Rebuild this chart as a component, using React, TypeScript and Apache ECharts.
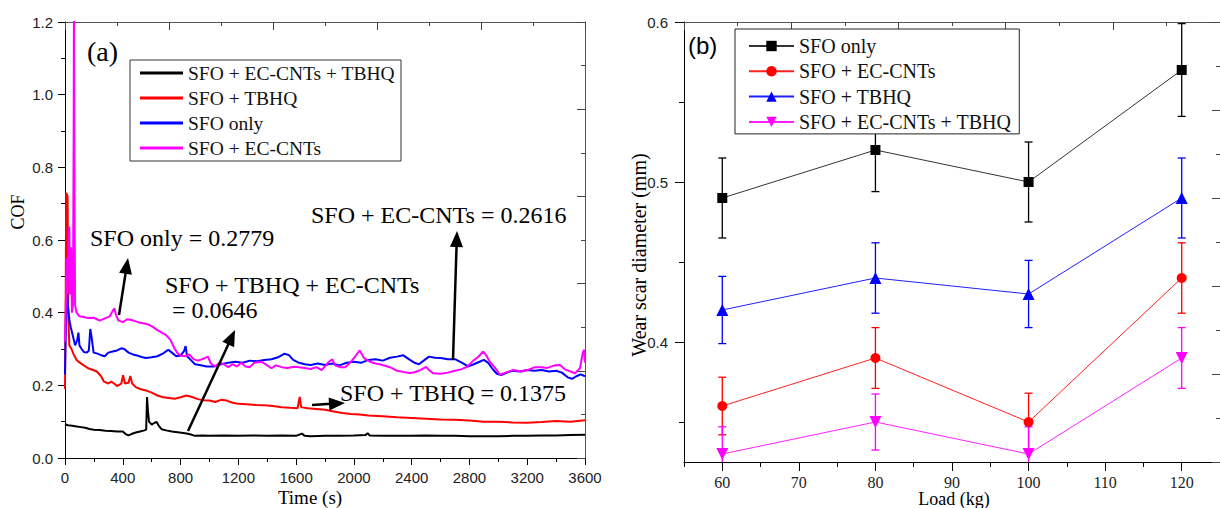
import React, { useEffect, useRef } from "react";
import * as echarts from "echarts";

// ---------- Panel (a): COF vs time ----------
const cofEcCntsTbhq: [number, number][] = [
  [0, 0.093], [20, 0.09], [50, 0.089], [80, 0.087], [110, 0.085], [140, 0.083], [170, 0.08], [200, 0.078],
  [240, 0.077], [280, 0.075], [320, 0.074], [360, 0.073], [400, 0.073], [420, 0.066], [440, 0.062], [460, 0.066],
  [490, 0.07], [520, 0.073], [550, 0.076], [562, 0.078], [568, 0.168], [574, 0.13], [582, 0.1], [600, 0.092],
  [620, 0.097], [635, 0.099], [650, 0.088], [670, 0.079], [700, 0.076], [740, 0.073], [780, 0.071], [820, 0.069],
  [860, 0.066], [900, 0.061], [950, 0.062], [1000, 0.061], [1100, 0.062], [1200, 0.061], [1300, 0.062], [1400, 0.061],
  [1500, 0.062], [1600, 0.061], [1640, 0.067], [1660, 0.061], [1700, 0.06], [1800, 0.061], [1900, 0.061], [2000, 0.062],
  [2080, 0.063], [2095, 0.068], [2110, 0.062], [2200, 0.061], [2300, 0.061], [2400, 0.061], [2500, 0.062], [2600, 0.061],
  [2700, 0.061], [2800, 0.06], [2900, 0.06], [3000, 0.06], [3100, 0.061], [3200, 0.061], [3300, 0.062], [3400, 0.062],
  [3500, 0.063], [3600, 0.064],
];

const cofTbhq: [number, number][] = [
  [0, 0.19], [5, 0.45], [8, 0.73], [18, 0.72], [22, 0.4], [30, 0.31], [45, 0.3], [60, 0.285], [80, 0.27], [100, 0.263],
  [130, 0.255], [160, 0.247], [190, 0.243], [220, 0.238], [250, 0.225], [270, 0.21], [300, 0.205], [320, 0.21],
  [340, 0.205], [360, 0.198], [390, 0.205], [402, 0.228], [415, 0.205], [440, 0.207], [452, 0.226], [465, 0.205],
  [490, 0.195], [520, 0.19], [560, 0.186], [600, 0.18], [640, 0.172], [680, 0.167], [720, 0.165], [760, 0.163],
  [800, 0.167], [840, 0.172], [880, 0.168], [920, 0.162], [960, 0.159], [1000, 0.158], [1040, 0.154], [1080, 0.16],
  [1120, 0.158], [1160, 0.152], [1200, 0.149], [1260, 0.148], [1320, 0.146], [1380, 0.145], [1440, 0.143], [1500, 0.14],
  [1560, 0.138], [1610, 0.137], [1625, 0.168], [1635, 0.14], [1680, 0.137], [1740, 0.135], [1800, 0.133], [1860, 0.128],
  [1920, 0.124], [1980, 0.121], [2040, 0.12], [2100, 0.117], [2200, 0.115], [2300, 0.112], [2400, 0.11], [2500, 0.108],
  [2600, 0.106], [2700, 0.105], [2800, 0.103], [2900, 0.1], [3000, 0.1], [3100, 0.098], [3200, 0.097], [3300, 0.099],
  [3400, 0.102], [3500, 0.1], [3600, 0.104],
];

const cofSfoOnly: [number, number][] = [
  [0, 0.23], [5, 0.35], [10, 0.45], [14, 0.465], [20, 0.42], [30, 0.38], [40, 0.36], [55, 0.335], [70, 0.31], [85, 0.325],
  [93, 0.345], [100, 0.31], [115, 0.3], [130, 0.292], [150, 0.29], [165, 0.295], [175, 0.355], [185, 0.33], [198, 0.29],
  [220, 0.288], [250, 0.283], [275, 0.28], [300, 0.29], [330, 0.293], [360, 0.296], [390, 0.302], [410, 0.3], [440, 0.29],
  [470, 0.285], [500, 0.282], [530, 0.278], [560, 0.275], [600, 0.277], [640, 0.28], [680, 0.288], [715, 0.298],
  [740, 0.29], [770, 0.28], [800, 0.282], [825, 0.295], [835, 0.308], [845, 0.28], [870, 0.27], [900, 0.258], [940, 0.255],
  [980, 0.252], [1030, 0.252], [1080, 0.258], [1130, 0.262], [1180, 0.265], [1230, 0.262], [1280, 0.268], [1330, 0.266],
  [1380, 0.27], [1430, 0.272], [1480, 0.278], [1520, 0.287], [1550, 0.283], [1580, 0.27], [1620, 0.262], [1660, 0.258],
  [1700, 0.256], [1750, 0.26], [1800, 0.256], [1850, 0.26], [1900, 0.255], [1950, 0.262], [2000, 0.265], [2050, 0.262],
  [2100, 0.27], [2150, 0.272], [2200, 0.268], [2250, 0.276], [2300, 0.279], [2340, 0.283], [2380, 0.272], [2420, 0.262],
  [2450, 0.258], [2490, 0.27], [2520, 0.279], [2560, 0.276], [2600, 0.275], [2650, 0.272], [2700, 0.272], [2750, 0.262],
  [2790, 0.252], [2830, 0.258], [2870, 0.265], [2900, 0.27], [2930, 0.262], [2960, 0.245], [2990, 0.232], [3020, 0.228],
  [3060, 0.235], [3100, 0.24], [3150, 0.238], [3200, 0.242], [3250, 0.24], [3300, 0.242], [3350, 0.238], [3400, 0.24],
  [3440, 0.235], [3480, 0.222], [3510, 0.218], [3540, 0.225], [3570, 0.23], [3600, 0.225],
];

const cofEcCnts: [number, number][] = [
  [0, 0.32], [5, 0.4], [12, 0.55], [18, 0.45], [25, 0.62], [30, 0.637], [35, 0.45], [42, 0.58], [48, 0.4], [55, 0.42],
  [60, 0.9], [62, 1.25], [64, 1.25], [66, 0.7], [70, 0.42], [80, 0.4], [100, 0.39], [130, 0.388], [160, 0.385],
  [200, 0.386], [240, 0.378], [280, 0.385], [310, 0.39], [330, 0.405], [342, 0.412], [352, 0.395], [370, 0.378],
  [400, 0.374], [430, 0.382], [460, 0.38], [490, 0.376], [520, 0.372], [550, 0.37], [580, 0.367], [610, 0.36],
  [640, 0.352], [670, 0.345], [700, 0.338], [730, 0.325], [760, 0.3], [780, 0.288], [800, 0.282], [830, 0.28],
  [860, 0.285], [890, 0.272], [920, 0.268], [950, 0.272], [990, 0.279], [1010, 0.26], [1040, 0.252], [1070, 0.262],
  [1100, 0.258], [1130, 0.25], [1160, 0.258], [1190, 0.252], [1220, 0.262], [1250, 0.252], [1280, 0.25], [1310, 0.262],
  [1360, 0.265], [1400, 0.255], [1430, 0.247], [1460, 0.255], [1500, 0.25], [1540, 0.248], [1590, 0.251], [1620, 0.25],
  [1660, 0.248], [1700, 0.245], [1740, 0.25], [1777, 0.242], [1820, 0.262], [1850, 0.272], [1870, 0.255], [1904, 0.25],
  [1940, 0.25], [1980, 0.265], [2010, 0.28], [2040, 0.296], [2070, 0.275], [2111, 0.265], [2150, 0.26], [2180, 0.258],
  [2250, 0.25], [2300, 0.24], [2340, 0.237], [2389, 0.234], [2420, 0.236], [2460, 0.242], [2500, 0.251], [2520, 0.242],
  [2550, 0.233], [2600, 0.232], [2650, 0.235], [2700, 0.24], [2740, 0.244], [2780, 0.25], [2827, 0.268], [2860, 0.278],
  [2896, 0.293], [2920, 0.28], [2945, 0.262], [2970, 0.252], [3011, 0.229], [3050, 0.235], [3104, 0.242], [3160, 0.238],
  [3200, 0.242], [3254, 0.25], [3300, 0.25], [3340, 0.248], [3390, 0.255], [3427, 0.256], [3460, 0.244], [3500, 0.238],
  [3530, 0.233], [3565, 0.247], [3585, 0.29], [3594, 0.298], [3600, 0.262],
];

// ---------- Panel (b): wear scar diameter vs load ----------
const loads = [60, 80, 100, 120];
const wsdSfoOnly = [0.49, 0.52, 0.5, 0.57];
const errSfoOnly = [0.025, 0.026, 0.025, 0.029];
const wsdEcCnts = [0.36, 0.39, 0.35, 0.44];
const errEcCnts = [0.018, 0.019, 0.018, 0.022];
const wsdTbhq = [0.42, 0.44, 0.43, 0.49];
const errTbhq = [0.021, 0.022, 0.021, 0.025];
const wsdEcCntsTbhq = [0.33, 0.35, 0.33, 0.39];
const errEcCntsTbhq = [0.017, 0.0175, 0.017, 0.019];

const loadTicks = [60, 70, 80, 90, 100, 110, 120];
const loadMinorTicks = [55, 65, 75, 85, 95, 105, 115, 125];
const wsdTicks = [0.4, 0.5, 0.6];
const wsdMinorTicks = [0.35, 0.45, 0.55];

const SERIF = '"Liberation Serif", "Times New Roman", serif';
const SANS = '"Liberation Sans", Arial, sans-serif';

function arrow(x1: number, y1: number, x2: number, y2: number, L = 16, W = 6.5) {
  const dx = x2 - x1, dy = y2 - y1;
  const len = Math.hypot(dx, dy);
  const ux = dx / len, uy = dy / len;
  const bx = x2 - ux * L, by = y2 - uy * L;
  const nx = -uy, ny = ux;
  return [
    { type: "line", z: 100, shape: { x1, y1, x2: bx + ux * 2, y2: by + uy * 2 }, style: { stroke: "#000", lineWidth: 2.5 } },
    {
      type: "polygon", z: 100,
      shape: { points: [[x2, y2], [bx + nx * W, by + ny * W], [bx - nx * W, by - ny * W]] },
      style: { fill: "#000" },
    },
  ];
}

function txt(text: string, x: number, y: number, size: number, family = SERIF, extra: any = {}) {
  return {
    type: "text", z: 100, x, y, ...extra,
    style: { text, fontSize: size, fontFamily: family, fill: "#000", align: "left", verticalAlign: "middle", ...(extra.style || {}) },
  };
}

function errData(vals: number[], errs: number[]) {
  return loads.map((l, i) => [l, vals[i] - errs[i], vals[i] + errs[i]]);
}

function errSeries(name: string, vals: number[], errs: number[], color: string) {
  return {
    type: "custom", name, xAxisIndex: 2, yAxisIndex: 2, z: 1, silent: true,
    data: errData(vals, errs),
    encode: { x: 0, y: [1, 2] },
    renderItem: (params: any, api: any) => {
      const x = api.value(0), lo = api.value(1), hi = api.value(2);
      const pHi = api.coord([x, hi]);
      const pLo = api.coord([x, lo]);
      const cs = params.coordSys;
      const bottom = cs.y + cs.height;
      const loY = Math.min(pLo[1], bottom);
      const w = 4;
      const st = { stroke: color, lineWidth: 1.3 };
      const children: any[] = [
        { type: "line", shape: { x1: pHi[0], y1: pHi[1], x2: pLo[0], y2: loY }, style: st },
        { type: "line", shape: { x1: pHi[0] - w, y1: pHi[1], x2: pHi[0] + w, y2: pHi[1] }, style: st },
      ];
      if (pLo[1] <= bottom) children.push({ type: "line", shape: { x1: pLo[0] - w, y1: pLo[1], x2: pLo[0] + w, y2: pLo[1] }, style: st });
      return { type: "group", children };
    },
  };
}

function wsdLine(name: string, vals: number[], color: string, lineColor: string, symbol: string, size: number, rotate = 0) {
  return {
    type: "line", name, xAxisIndex: 2, yAxisIndex: 2, z: 3,
    data: loads.map((l, i) => [l, vals[i]]),
    symbol, symbolSize: size, symbolRotate: rotate,
    itemStyle: { color },
    lineStyle: { color: lineColor, width: 1 },
    emphasis: { disabled: true },
  };
}

const hiddenAxisBase = { splitLine: { show: false } };

export default function App() {
  const ref = useRef<HTMLDivElement>(null);
  useEffect(() => {
    if (!ref.current) return;
    const chart = echarts.init(ref.current, undefined, { renderer: "svg" });
    const mirror = (gridIndex: number) => ({
      gridIndex, type: "value", min: 0, max: 5, interval: 1,
      axisLine: { show: true, onZero: false, lineStyle: { color: "#555", width: 1 } },
      axisTick: { show: true, inside: true, length: 8, lineStyle: { color: "#444" } },
      minorTick: { show: true, splitNumber: 2, length: 4, lineStyle: { color: "#444" } },
      axisLabel: { show: false },
      ...hiddenAxisBase,
    });
    const option: any = {
      animation: false,
      backgroundColor: "#fff",
      textStyle: { fontFamily: SERIF },
      grid: [
        { left: 65, top: 22, width: 520, height: 436 },
        { left: 684, top: 22, width: 537, height: 440 },
        { left: 684, top: 22, width: 537, height: 440 },
      ],
      xAxis: [
        {
          gridIndex: 0, type: "value", position: "bottom", min: 0, max: 3600, interval: 400,
          axisLine: { show: true, onZero: false, lineStyle: { color: "#000", width: 1 } },
          axisTick: { show: true, length: 7, lineStyle: { color: "#000" } },
          minorTick: { show: true, splitNumber: 2, length: 4, lineStyle: { color: "#000" } },
          axisLabel: { margin: 12, fontFamily: SANS, fontSize: 15, color: "#222", formatter: (v: number) => String(v) },
          ...hiddenAxisBase,
        },
        { ...mirror(0), position: "top" },
        {
          gridIndex: 1, type: "value", position: "bottom", min: 55, max: 125,
          axisLine: { show: true, onZero: false, lineStyle: { color: "#000", width: 1 } },
          axisTick: { show: true, length: 9, customValues: loadTicks, lineStyle: { color: "#000" } },
          axisLabel: { customValues: loadTicks, margin: 12, fontFamily: SERIF, fontSize: 16, color: "#222", formatter: (v: number) => String(v) },
          ...hiddenAxisBase,
        },
        { ...mirror(1), position: "top" },
        {
          gridIndex: 2, type: "value", position: "bottom", min: 55, max: 125,
          axisLine: { show: false, onZero: false },
          axisTick: { show: true, length: 5, customValues: loadMinorTicks, lineStyle: { color: "#000" } },
          axisLabel: { show: false },
          ...hiddenAxisBase,
        },
      ],
      yAxis: [
        {
          gridIndex: 0, type: "value", position: "left", min: 0, max: 1.2, interval: 0.2,
          axisLine: { show: true, onZero: false, lineStyle: { color: "#000", width: 1 } },
          axisTick: { show: true, length: 7, lineStyle: { color: "#000" } },
          minorTick: { show: true, splitNumber: 2, length: 4, lineStyle: { color: "#000" } },
          axisLabel: { margin: 12, fontFamily: SANS, fontSize: 15, color: "#222", formatter: (v: number) => v.toFixed(1) },
          ...hiddenAxisBase,
        },
        { ...mirror(0), position: "right" },
        {
          gridIndex: 1, type: "value", position: "left", min: 0.325, max: 0.6,
          axisLine: { show: true, onZero: false, lineStyle: { color: "#000", width: 1 } },
          axisTick: { show: true, length: 9, customValues: wsdTicks, lineStyle: { color: "#000" } },
          axisLabel: { customValues: wsdTicks, margin: 16, fontFamily: SANS, fontSize: 15, color: "#222", formatter: (v: number) => v.toFixed(1) },
          ...hiddenAxisBase,
        },
        { ...mirror(1), position: "right" },
        {
          gridIndex: 2, type: "value", position: "left", min: 0.325, max: 0.6,
          axisLine: { show: false, onZero: false },
          axisTick: { show: true, length: 5, customValues: wsdMinorTicks, lineStyle: { color: "#000" } },
          axisLabel: { show: false },
          ...hiddenAxisBase,
        },
      ],
      legend: [
        {
          data: [
            { name: "SFO + EC-CNTs + TBHQ", itemStyle: { color: "#000" } },
            { name: "SFO + TBHQ", itemStyle: { color: "#ff0000" } },
            { name: "SFO only", itemStyle: { color: "#0000ff" } },
            { name: "SFO + EC-CNTs", itemStyle: { color: "#ff00ff" } },
          ],
          orient: "vertical", left: 130, top: 60, icon: "rect",
          itemWidth: 43, itemHeight: 3, itemGap: 5,
          padding: [3, 6, 3, 10],
          borderColor: "#333", borderWidth: 1, backgroundColor: "#fff",
          textStyle: { fontFamily: SERIF, fontSize: 19.5, color: "#111" },
          selectedMode: false,
        },
        {
          data: ["b:SFO only", "b:SFO + EC-CNTs", "b:SFO + TBHQ", "b:SFO + EC-CNTs + TBHQ"],
          formatter: (n: string) => n.slice(2),
          orient: "vertical", left: 735, top: 29,
          itemWidth: 45, itemHeight: 13, itemGap: 5.3,
          padding: [7, 8, 2, 13],
          borderColor: "#222", borderWidth: 1, backgroundColor: "#fff",
          textStyle: { fontFamily: SERIF, fontSize: 20, color: "#111" },
          selectedMode: false,
        },
      ],
      series: [
        { type: "line", name: "SFO + EC-CNTs + TBHQ", xAxisIndex: 0, yAxisIndex: 0, data: cofEcCntsTbhq, showSymbol: false, symbol: "none", color: "#000", lineStyle: { color: "#000", width: 2 } },
        { type: "line", name: "SFO + TBHQ", xAxisIndex: 0, yAxisIndex: 0, data: cofTbhq, showSymbol: false, symbol: "none", color: "#ff0000", lineStyle: { color: "#ff0000", width: 2 } },
        { type: "line", name: "SFO only", xAxisIndex: 0, yAxisIndex: 0, data: cofSfoOnly, showSymbol: false, symbol: "none", color: "#0000ff", lineStyle: { color: "#0000ff", width: 2 } },
        { type: "line", name: "SFO + EC-CNTs", xAxisIndex: 0, yAxisIndex: 0, data: cofEcCnts, showSymbol: false, symbol: "none", color: "#ff00ff", lineStyle: { color: "#ff00ff", width: 2 } },
        errSeries("errSfoOnly", wsdSfoOnly, errSfoOnly, "#000"),
        errSeries("errEcCnts", wsdEcCnts, errEcCnts, "#ff0000"),
        errSeries("errTbhq", wsdTbhq, errTbhq, "#0000ff"),
        errSeries("errEcCntsTbhq", wsdEcCntsTbhq, errEcCntsTbhq, "#ff00ff"),
        wsdLine("b:SFO only", wsdSfoOnly, "#000", "#333", "rect", 10),
        wsdLine("b:SFO + EC-CNTs", wsdEcCnts, "#ff0000", "#ff2020", "circle", 10),
        wsdLine("b:SFO + TBHQ", wsdTbhq, "#0000ff", "#2020ff", "triangle", 12),
        wsdLine("b:SFO + EC-CNTs + TBHQ", wsdEcCntsTbhq, "#ff00ff", "#ff20ff", "triangle", 12, 180),
      ],
      graphic: [
        txt("(a)", 87, 51, 28),
        txt("(b)", 688, 45, 24, SANS),
        txt("COF", 18, 212, 18, SERIF, { rotation: Math.PI / 2, style: { align: "center" } }),
        txt("Time (s)", 310, 497, 19, SERIF, { style: { align: "center" } }),
        txt("Wear scar diameter (mm)", 639, 255, 20, SERIF, { rotation: Math.PI / 2, style: { align: "center" } }),
        txt("Load (kg)", 954, 499, 18, SERIF, { style: { align: "center" } }),
        txt("SFO only = 0.2779", 90, 238, 24),
        txt("SFO + EC-CNTs = 0.2616", 311, 215, 24),
        txt("SFO + TBHQ + EC-CNTs", 165, 284.5, 24),
        txt("= 0.0646", 172, 310, 24),
        txt("SFO + TBHQ = 0.1375", 340, 392.5, 24),
        ...arrow(119, 315, 128, 258),
        ...arrow(188, 431, 235, 330),
        ...arrow(453, 360, 457, 231),
        ...arrow(312, 405, 345, 403),
      ],
    };
    chart.setOption(option);
    return () => chart.dispose();
  }, []);
  return <div ref={ref} style={{ position: "fixed", left: 0, top: 0, width: 1220, height: 508 }} />;
}
